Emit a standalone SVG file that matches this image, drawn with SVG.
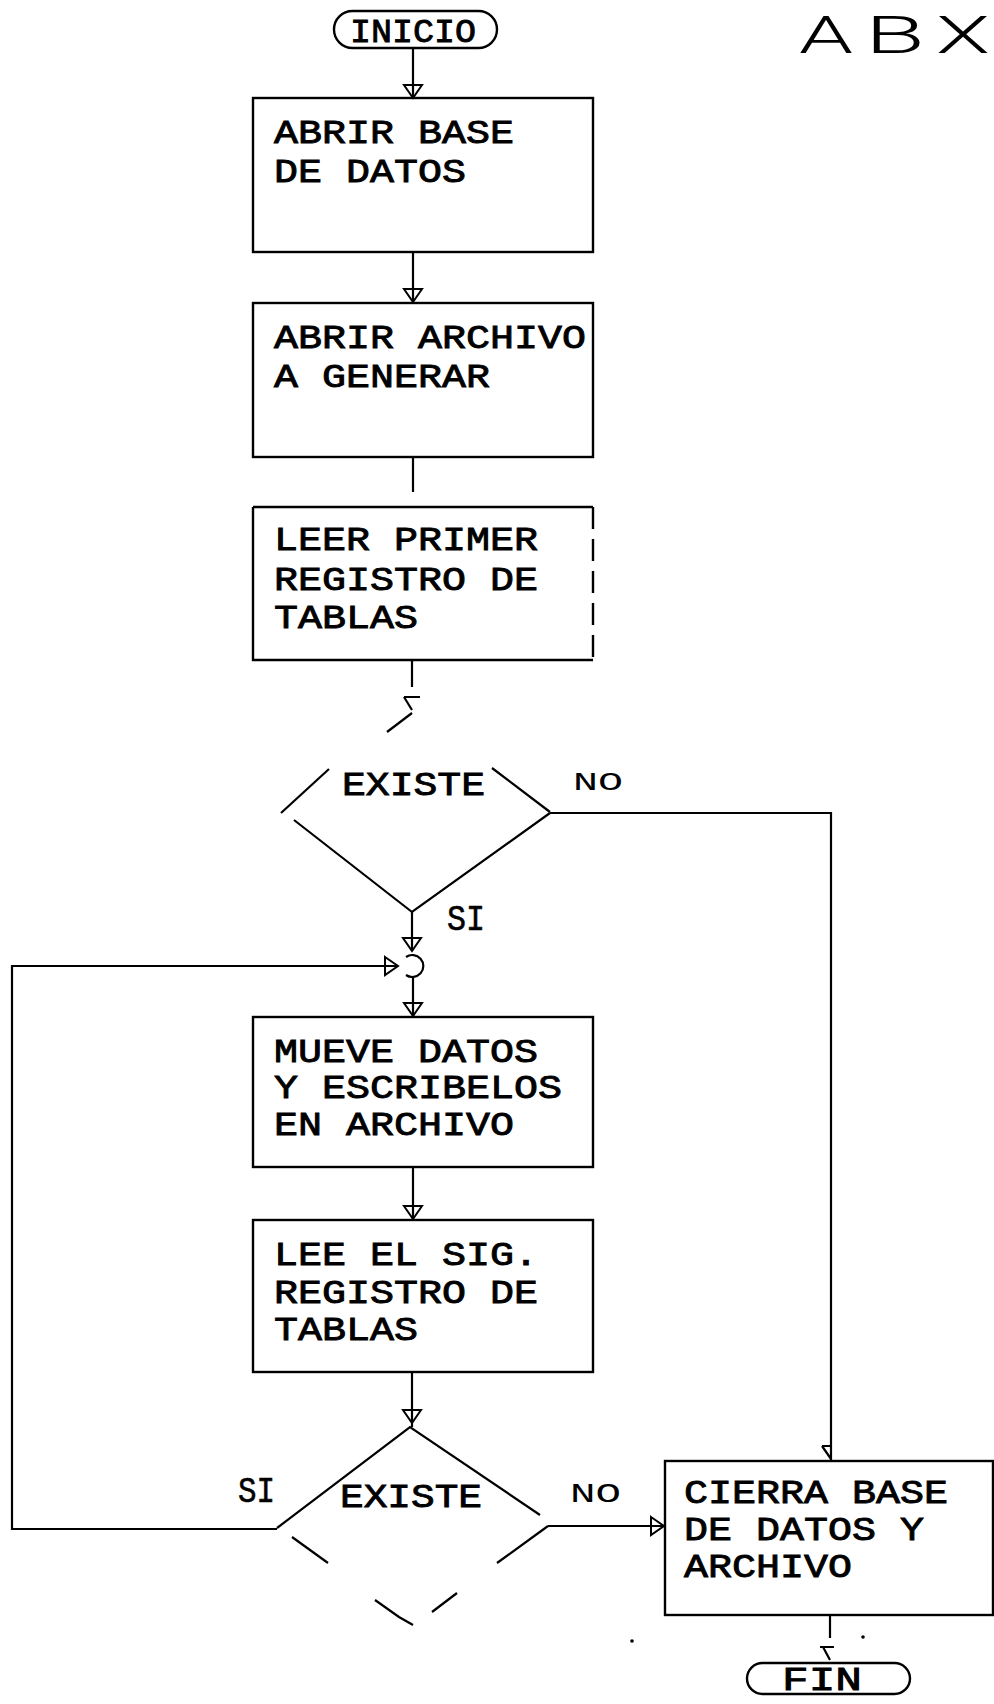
<svg xmlns="http://www.w3.org/2000/svg" width="994" height="1704" viewBox="0 0 994 1704">
<style>
.bg{fill:#fff}
.box{fill:none;stroke:#000;stroke-width:2.4}
.ln{fill:none;stroke:#000;stroke-width:2.2}
.t{font-family:"Liberation Mono","DejaVu Sans Mono",monospace;font-size:34px;fill:#000;stroke:#000;stroke-width:0.9}
.lbl{font-family:"Liberation Mono","DejaVu Sans Mono",monospace;fill:#000}
.big{font-family:Roboto,"Liberation Sans",sans-serif;font-weight:300;font-size:52px;fill:#000}
</style>
<defs>
<marker id="ah" viewBox="-2 -11 17 22" refX="13" refY="0" markerWidth="17" markerHeight="22" markerUnits="userSpaceOnUse" orient="auto">
<path d="M0,-9 L13,0 L0,9 Z" fill="none" stroke="#000" stroke-width="2"/>
</marker>
</defs>
<rect class="bg" x="0" y="0" width="994" height="1704"/>

<g id="title">
<text class="big" x="799" y="53" textLength="54" lengthAdjust="spacingAndGlyphs">A</text>
<text class="big" x="865" y="53" textLength="60" lengthAdjust="spacingAndGlyphs">B</text>
<text class="big" x="936" y="53" textLength="54" lengthAdjust="spacingAndGlyphs">X</text>
</g>

<g id="inicio">
<rect class="box" x="334" y="11" width="163" height="37" rx="18.5"/>
<text class="t" x="350" y="42" font-size="36" textLength="126" lengthAdjust="spacingAndGlyphs">INICIO</text>
</g>

<g id="abrir-base">
<rect class="box" x="253" y="98" width="340" height="154"/>
<text class="t" x="274" y="143" textLength="240" lengthAdjust="spacingAndGlyphs">ABRIR BASE</text>
<text class="t" x="274" y="182" textLength="192" lengthAdjust="spacingAndGlyphs">DE DATOS</text>
</g>

<g id="abrir-archivo">
<rect class="box" x="253" y="303" width="340" height="154"/>
<text class="t" x="274" y="348" textLength="312" lengthAdjust="spacingAndGlyphs">ABRIR ARCHIVO</text>
<text class="t" x="274" y="387" textLength="216" lengthAdjust="spacingAndGlyphs">A GENERAR</text>
</g>

<g id="leer-primer">
<path class="box" d="M253,507 H593 M253,507 V660 H593"/>
<path class="box" d="M593,507 V660" stroke-dasharray="22 10"/>
<text class="t" x="274" y="550" textLength="264" lengthAdjust="spacingAndGlyphs">LEER PRIMER</text>
<text class="t" x="274" y="590" textLength="264" lengthAdjust="spacingAndGlyphs">REGISTRO DE</text>
<text class="t" x="274" y="628" textLength="144" lengthAdjust="spacingAndGlyphs">TABLAS</text>
</g>

<g id="existe-1">
<path class="ln" d="M281,813 L329,769 M387,732 L412,713 M550,812 L492,768 M294,820 L412,912 L550,813"/>
<text class="t" x="342" y="795" textLength="143" lengthAdjust="spacingAndGlyphs">EXISTE</text>
</g>

<g id="conector">
<path class="ln" d="M406,957 A11,11 0 1,1 406,975"/>
</g>

<g id="mueve">
<rect class="box" x="253" y="1017" width="340" height="150"/>
<text class="t" x="274" y="1062" textLength="264" lengthAdjust="spacingAndGlyphs">MUEVE DATOS</text>
<text class="t" x="274" y="1098" textLength="288" lengthAdjust="spacingAndGlyphs">Y ESCRIBELOS</text>
<text class="t" x="274" y="1135" textLength="240" lengthAdjust="spacingAndGlyphs">EN ARCHIVO</text>
</g>

<g id="lee-sig">
<rect class="box" x="253" y="1220" width="340" height="152"/>
<text class="t" x="274" y="1265" textLength="264" lengthAdjust="spacingAndGlyphs">LEE EL SIG.</text>
<text class="t" x="274" y="1303" textLength="264" lengthAdjust="spacingAndGlyphs">REGISTRO DE</text>
<text class="t" x="274" y="1340" textLength="144" lengthAdjust="spacingAndGlyphs">TABLAS</text>
</g>

<g id="existe-2">
<path class="ln" d="M277,1528 L410,1427 L540,1515 M548,1526 L497,1563 M457,1593 L432,1612 M292,1537 L328,1563 M375,1600 L399,1617 L413,1625"/>
<text class="t" x="340" y="1507" textLength="142" lengthAdjust="spacingAndGlyphs">EXISTE</text>
</g>

<g id="cierra">
<rect class="box" x="665" y="1461" width="328" height="154"/>
<text class="t" x="684" y="1503" textLength="264" lengthAdjust="spacingAndGlyphs">CIERRA BASE</text>
<text class="t" x="684" y="1540" textLength="240" lengthAdjust="spacingAndGlyphs">DE DATOS Y</text>
<text class="t" x="684" y="1577" textLength="168" lengthAdjust="spacingAndGlyphs">ARCHIVO</text>
</g>

<g id="fin">
<rect class="box" x="747" y="1663" width="163" height="31" rx="15.5"/>
<text class="t" x="782" y="1690" textLength="80" lengthAdjust="spacingAndGlyphs">FIN</text>
</g>

<g id="connectors">
<path class="ln" d="M413,48 V98" marker-end="url(#ah)"/>
<path class="ln" d="M413,252 V302" marker-end="url(#ah)"/>
<path class="ln" d="M413,457 V492"/>
<path class="ln" d="M412,660 V687 M404,697 H420 M404,697 L412,710"/>
<path class="ln" d="M550,813 H831 V1460 M822,1446 H832 M822,1446 L831,1459"/>
<path class="ln" d="M412,912 V951" marker-end="url(#ah)"/>
<path class="ln" d="M413,977 V1016" marker-end="url(#ah)"/>
<path class="ln" d="M413,1167 V1219" marker-end="url(#ah)"/>
<path class="ln" d="M412,1372 V1423" marker-end="url(#ah)"/>
<path class="ln" d="M412,1423 V1427"/>
<path class="ln" d="M277,1529 H12 V966 H398" marker-end="url(#ah)"/>
<path class="ln" d="M548,1526 H664" marker-end="url(#ah)"/>
<path class="ln" d="M830,1615 V1638 M820,1647 H834 M823,1647 L830,1660"/>
</g>

<g id="labels">
<text class="lbl" x="573" y="790" font-size="26" textLength="50" lengthAdjust="spacingAndGlyphs">NO</text>
<text class="lbl" x="447" y="930" font-size="36" textLength="38" lengthAdjust="spacingAndGlyphs" stroke="#000" stroke-width="0.6">SI</text>
<text class="lbl" x="238" y="1502" font-size="36" textLength="37" lengthAdjust="spacingAndGlyphs" stroke="#000" stroke-width="0.6">SI</text>
<text class="lbl" x="570" y="1502" font-size="28" textLength="51" lengthAdjust="spacingAndGlyphs">NO</text>
</g>

<g id="marks">
<circle cx="632" cy="1641" r="1.8" fill="#000"/>
<circle cx="863" cy="1637" r="1.8" fill="#000"/>
</g>
</svg>
